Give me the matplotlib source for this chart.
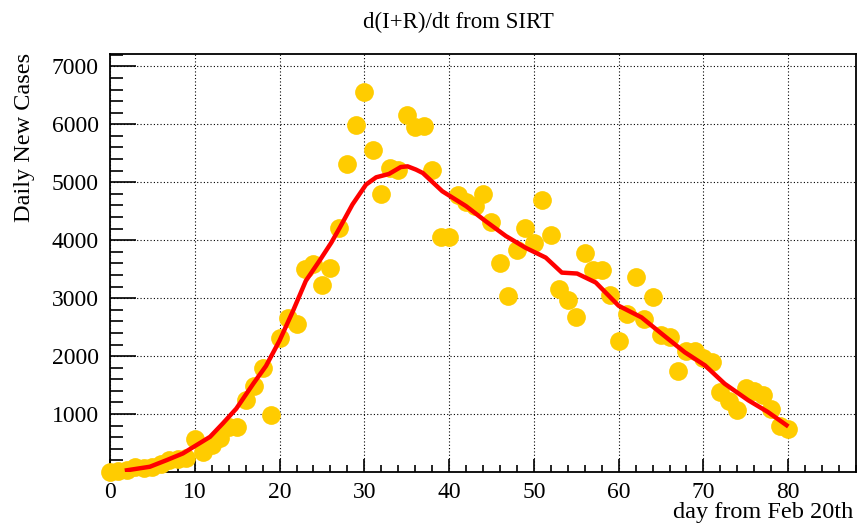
import matplotlib
matplotlib.use("Agg")
import matplotlib.pyplot as plt
from matplotlib.ticker import MultipleLocator

plt.rcParams['font.family'] = ['Liberation Serif', 'DejaVu Serif']

# daily new cases, one value per day from Feb 20th
days = list(range(0, 81))
newCases = [0, 17, 42, 93, 74, 93, 131, 202, 233, 240,
            566, 342, 466, 587, 769, 778, 1247, 1492, 1797, 977,
            2313, 2651, 2547, 3497, 3590, 3233, 3526, 4207, 5322, 5986,
            6557, 5560, 4789, 5249, 5210, 6153, 5959, 5974, 5217, 4050,
            4053, 4782, 4668, 4585, 4805, 4316, 3599, 3039, 3836, 4204,
            3951, 4694, 4092, 3153, 2972, 2667, 3786, 3493, 3491, 3047,
            2256, 2729, 3370, 2646, 3021, 2357, 2324, 1739, 2091, 2086,
            1965, 1900, 1389, 1221, 1075, 1444, 1401, 1327, 1083, 802, 744]

# SIRT model curve
modelDays = [2, 4.7, 6.7, 8.6, 10.2, 11.8, 13.3, 14.9, 16.9, 18.4,
             20.0, 21.6, 23.1, 24.7, 26.1, 27.1, 28.6, 30.2, 31.4, 32.9,
             34.3, 35.1, 36.1, 36.9, 39.2, 42.0, 44.3, 46.7, 49.0, 50.6,
             51.4, 53.3, 55.1, 57.3, 60.0, 62.7, 65.1, 67.8, 70.2, 72.5,
             75.3, 77.6, 79.8]
modelCases = [30, 91, 206, 321, 464, 607, 837, 1094, 1524, 1830,
              2268, 2784, 3299, 3643, 3957, 4215, 4617, 4960, 5086, 5143,
              5263, 5275, 5218, 5160, 4845, 4588, 4330, 4072, 3871, 3757,
              3700, 3441, 3425, 3270, 2869, 2668, 2383, 2067, 1838, 1524,
              1237, 1036, 808]

fig = plt.figure(figsize=(8.58, 5.24), dpi=100)
ax = fig.add_axes([0.1282, 0.0992, 0.8695, 0.7977])

ax.plot(days, newCases, linestyle="none", marker="o", markersize=13.5,
        markerfacecolor="#FFCC00", markeredgewidth=0, clip_on=False, zorder=3)
ax.plot(modelDays, modelCases, color="#FF0000", linewidth=3.2, zorder=4)

ax.set_xlim(0, 88)
ax.set_ylim(0, 7213)

ax.set_xticks(range(0, 90, 10))
ax.set_yticks(range(1000, 8000, 1000))
ax.xaxis.set_minor_locator(MultipleLocator(2))
ax.yaxis.set_minor_locator(MultipleLocator(200))

ax.tick_params(axis="both", which="both", direction="in", top=False, right=False,
               labelsize=17, width=1.2)
ax.tick_params(axis="x", which="major", length=9.5, pad=7)
ax.tick_params(axis="x", which="minor", length=4.7)
ax.tick_params(axis="y", which="major", length=18.5, pad=8)
ax.tick_params(axis="y", which="minor", length=9.3)

for s in ax.spines.values():
    s.set_linewidth(1.3)

ax.grid(True, which="major", color="black", linestyle=(0, (1, 2)), linewidth=0.8)
ax.set_axisbelow(True)

fig.text(0.534, 1 - 28 / 524, "d(I+R)/dt from SIRT", fontsize=16.5,
         ha="center", va="baseline")
fig.text(0.028, 1 - 53 / 524, "Daily New Cases", fontsize=17.5,
         rotation=90, ha="center", va="top")
fig.text(853 / 858, 1 - 518 / 524, "day from Feb 20th", fontsize=17.5,
         ha="right", va="baseline")

fig.savefig("out.png", dpi=100)
